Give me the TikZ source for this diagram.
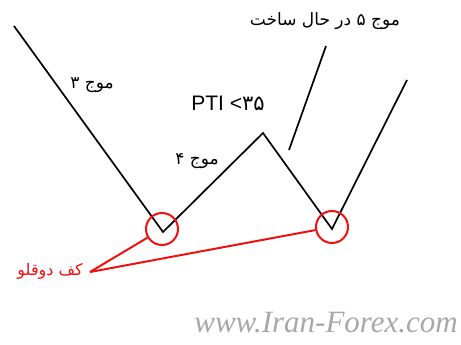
\documentclass[tikz,border=0pt]{standalone}
\usepackage{fontspec}
\setmainfont{Liberation Sans}
\newfontfamily\persfont[Script=Arabic]{DejaVu Sans}
\newfontfamily\markfont{Liberation Serif}
\TeXXeTstate=1
\usetikzlibrary{positioning}
\definecolor{ringred}{HTML}{F01010}
\definecolor{markgray}{HTML}{A8A8A8}

\tikzset{
  wave/.style={line width=1.7pt,black,line join=miter},
  bottomring/.style={circle,draw=ringred,line width=2pt,minimum size=32pt,inner sep=0pt},
  pointer/.style={line width=2pt,ringred},
  wavelabel/.style={font=\fontsize{17}{20}\selectfont\persfont,inner sep=1pt}
}

\begin{document}
\begin{tikzpicture}[x=1pt,y=-1pt]
    \useasboundingbox (0,0) rectangle (461,345);
    % zigzag of waves 3, 4 and 5
    \coordinate (w3top) at (14,26);
    \coordinate (bottomA) at (163,232);
    \coordinate (w4top) at (263,133);
    \coordinate (bottomB) at (332,229);
    \coordinate (w5top) at (407,80);
    \draw[wave] (w3top) -- (bottomA) -- (w4top) -- (bottomB) -- (w5top);
    % pointer of the wave 5 label
    \coordinate (w5tip) at (326,46);
    \coordinate (w5foot) at (289,150);
    \draw[wave] (w5tip) -- (w5foot);
    % labels
    \node[wavelabel] (lab3) at (92,85) {\beginR موج ۳\endR};
    \node[wavelabel] (lab4) at (197,161) {\beginR موج ۴\endR};
    \node[wavelabel] (lab5) at (325,21) {\beginR موج ۵ در حال ساخت\endR};
    \node[font=\fontsize{21}{24}\selectfont,inner sep=1pt] (pti) at (228,103) {PTI <{\persfont ۳۵}};
    % double bottom
    \node[bottomring] (ringA) at (162,229) {};
    \node[bottomring] (ringB) at (332,227) {};
    \node[wavelabel,font=\fontsize{16}{19}\selectfont\persfont,text=ringred,anchor=east] (twin) at (84,271) {\beginR کف دوقلو\endR};
    \coordinate (twinend) at (90,272);
    \draw[pointer] (twinend) -- (ringA);
    \draw[pointer] (twinend) -- (ringB);
    % watermark
    \node[font=\fontsize{31}{34}\selectfont\markfont\itshape,text=markgray,anchor=east,inner sep=0pt] (mark) at (458,323) {www.Iran-Forex.com};
\end{tikzpicture}
\end{document}
